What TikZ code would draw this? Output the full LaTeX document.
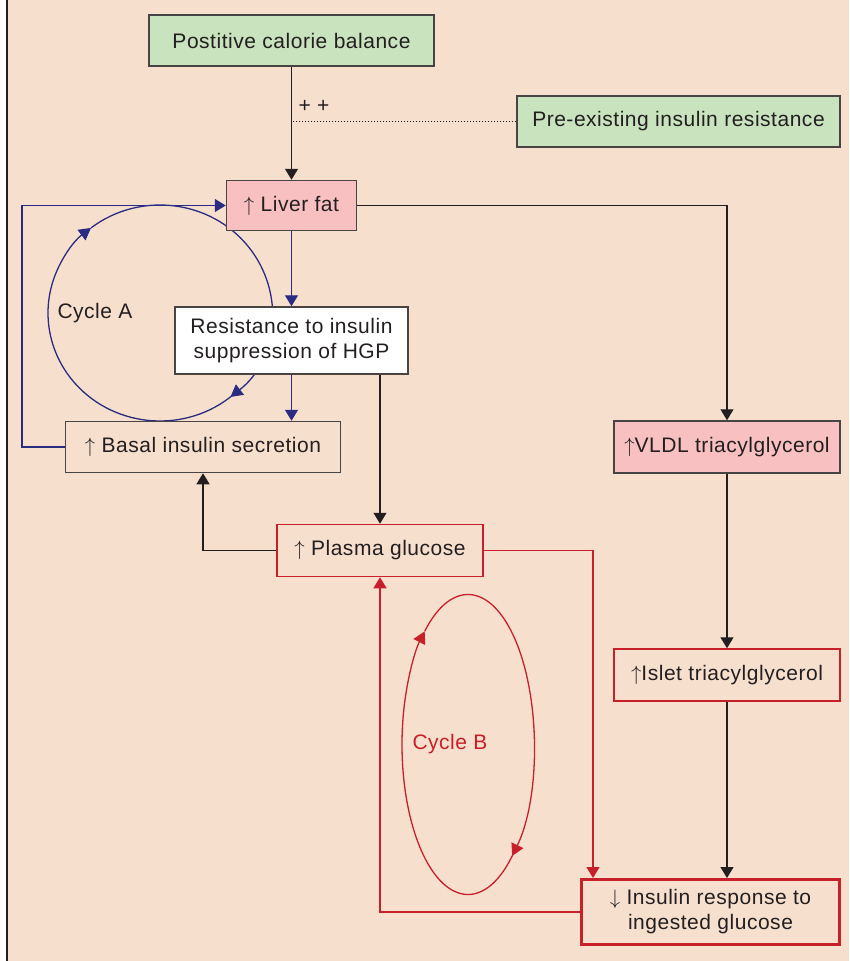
\documentclass[tikz,border=0pt]{standalone}
\usepackage{fontspec}
\setmainfont{Liberation Sans}[LetterSpace=2.5]
\usetikzlibrary{arrows.meta,calc}
\definecolor{bg}{RGB}{247,223,206}
\definecolor{grn}{RGB}{200,227,189}
\definecolor{pnk}{RGB}{248,192,193}
\definecolor{ink}{RGB}{35,31,32}
\definecolor{edgec}{RGB}{72,68,68}
\definecolor{navy}{RGB}{42,44,130}
\definecolor{rd}{RGB}{200,32,42}
\begin{document}
\begin{tikzpicture}[x=1pt,y=-1pt,
  box/.style={draw=edgec, line width=1.5pt, text=ink, inner sep=0pt, align=center,
    font=\fontsize{21}{25}\selectfont},
  tip/.style={-{Triangle[width=13pt,length=11pt]}},
  ctip/.style={-{Triangle[width=13pt,length=12pt]}},
  blk/.style={draw=ink, line width=1.3pt, tip},
  blu/.style={draw=navy, line width=1.3pt, tip},
  red/.style={draw=rd, line width=1.3pt, tip},
  lbl/.style={inner sep=0pt, font=\fontsize{21}{25}\selectfont}]
\useasboundingbox (0,0) rectangle (849,961);
\fill[white] (0,0) rectangle (849,961);
\fill[bg] (8,0) rectangle (849,961);
\draw[ink, line width=2pt] (7,0) -- (7,961);

% Cycle A
\draw[navy, line width=1.3pt, ctip]
  ($(160,313)+(49:112 and 108)$) arc[start angle=49, end angle=232, x radius=112, y radius=108];
\draw[navy, line width=1.3pt, ctip]
  ($(160,313)+(232:112 and 108)$) arc[start angle=232, end angle=411, x radius=112, y radius=108];
% Cycle B
\draw[rd, line width=1.3pt, ctip]
  ($(468,744.5)+(46:66 and 150)$) arc[start angle=46, end angle=229, x radius=66, y radius=150];
\draw[rd, line width=1.3pt, ctip]
  ($(468,744.5)+(229:66 and 150)$) arc[start angle=229, end angle=408, x radius=66, y radius=150];

% Nodes
\node[box, fill=grn, minimum width=285pt, minimum height=51pt] (pcb) at (291.5,40.5) {Postitive calorie balance};
\node[box, fill=grn, minimum width=323pt, minimum height=51pt] (pir) at (678.5,121.5) {Pre-existing insulin resistance};
\node[box, fill=pnk, minimum width=130pt, minimum height=50pt] (liver) at (291.5,205.5) {$\uparrow$ Liver fat};
\node[box, fill=white, minimum width=233pt, minimum height=67pt] (res) at (291.5,340.5) {Resistance to insulin\\suppression of HGP};
\node[box, fill=bg, minimum width=275pt, minimum height=51pt] (basal) at (203,447) {$\uparrow$ Basal insulin secretion};
\node[box, draw=rd, fill=bg, minimum width=206pt, minimum height=52pt] (plasma) at (380,550.5) {$\uparrow$ Plasma glucose};
\node[box, fill=pnk, minimum width=226pt, minimum height=52pt] (vldl) at (727,447) {$\uparrow$VLDL triacylglycerol};
\node[box, draw=rd, fill=bg, minimum width=226pt, minimum height=52pt] (islet) at (727,675) {$\uparrow$Islet triacylglycerol};
\node[box, draw=rd, fill=bg, line width=3pt, minimum width=258pt, minimum height=65pt] (resp) at (710.5,912) {$\downarrow$ Insulin response to\\ingested glucose};

\node[lbl, text=ink] (cA) at (95,313) {Cycle A};
\node[lbl, text=rd] (cB) at (450,744) {Cycle B};
\node[lbl, text=ink] (pp) at (314,106) {+ +};

\coordinate (lA) at (22,447);
\coordinate (rB) at (593,550.5);

% Connectors
\draw[blk] (pcb) -- (liver);
\draw[ink, line width=1pt, dotted] (pir.west) -- (pir.west -| liver.north);
\draw[blk] (liver.east) -| (vldl.north);
\draw[blk] (vldl) -- (islet);
\draw[blk] (islet.south) -- (islet.south |- resp.north);
\draw[blu] (liver) -- (res);
\draw[blu] (res.south) -- (res.south |- basal.north);
\draw[blk] (res.south -| plasma.north) -- (plasma.north);
\draw[blu] (basal.west) -- (lA) |- (liver.west);
\draw[blk] (plasma.west) -| (basal.south);
\draw[red] (plasma.east) -- (rB) -- (rB |- resp.north);
\draw[red] (resp.west) -| (plasma.south);
\end{tikzpicture}
\end{document}
